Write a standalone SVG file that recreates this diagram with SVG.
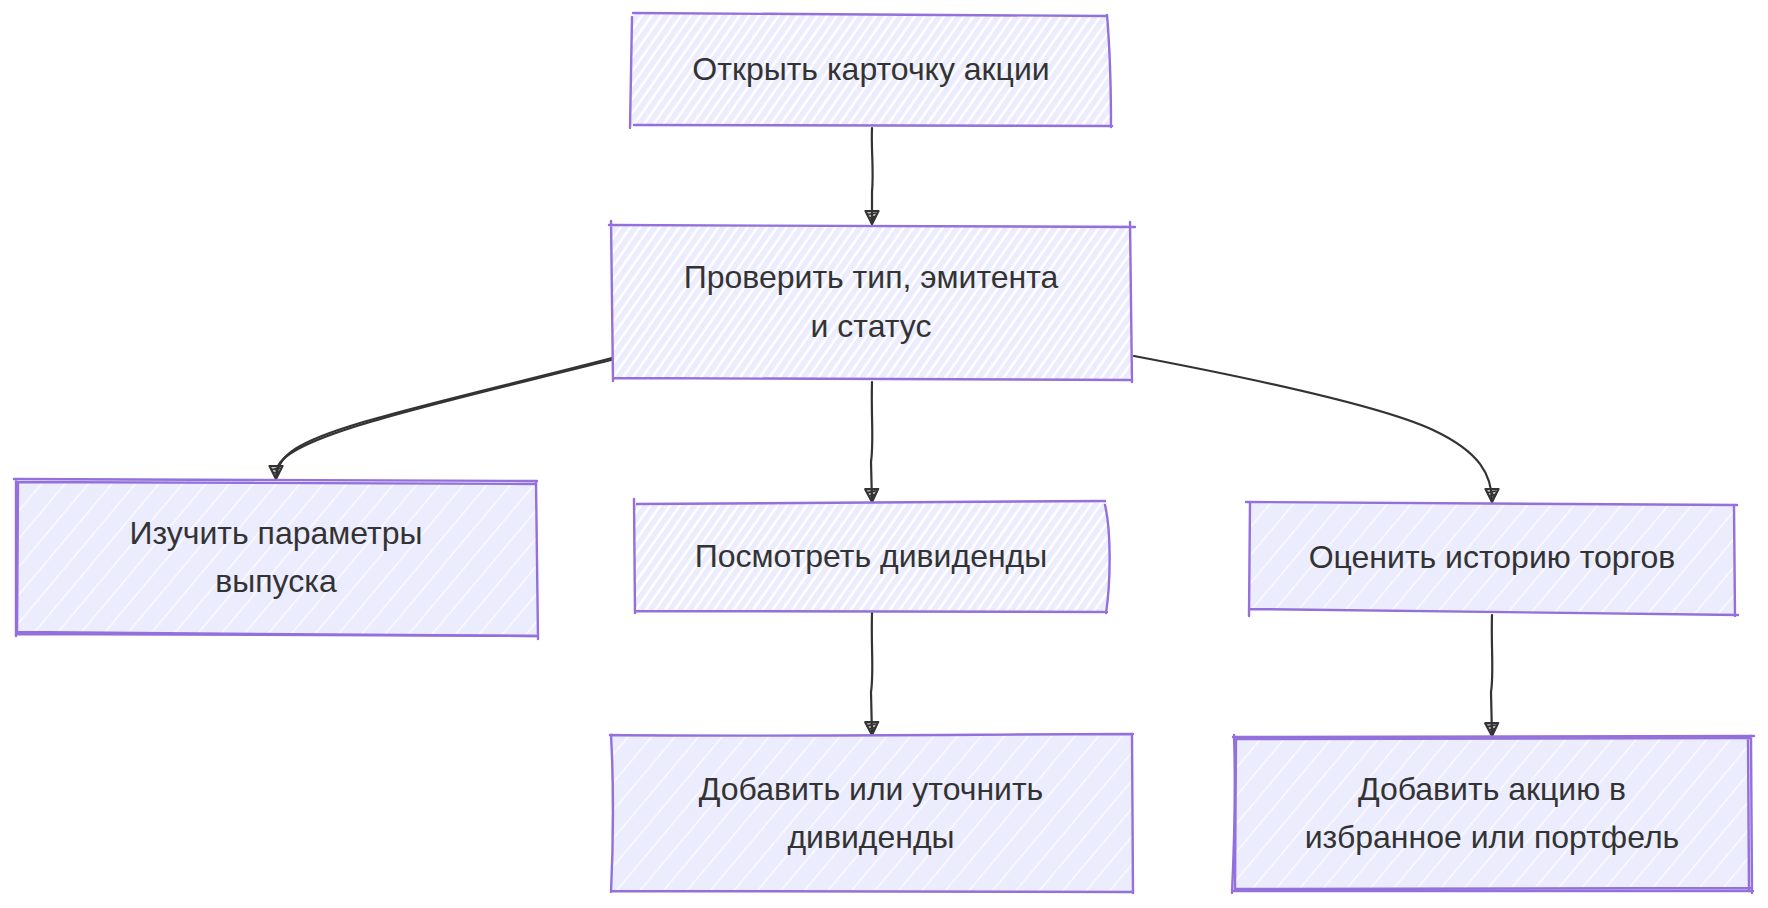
<svg xmlns="http://www.w3.org/2000/svg" width="1768" height="908" viewBox="0 0 1768 908">
<style>
.bd{fill:none;stroke:#9370DB;stroke-width:2.4;stroke-linecap:round;stroke-linejoin:round}
.lb{font-family:"Liberation Sans",Arial,sans-serif;font-size:32px;fill:#333333;text-anchor:middle}
.ed{fill:none;stroke:#333333;stroke-width:2.2;stroke-linecap:round}
</style>
<defs>
<pattern id="h1" width="8" height="8" patternUnits="userSpaceOnUse" patternTransform="rotate(35)">
<rect width="8" height="8" fill="#ffffff"/>
<rect width="5.5" height="8" fill="#ECECFF"/>
</pattern>
<pattern id="h2" width="18" height="18" patternUnits="userSpaceOnUse" patternTransform="rotate(40)">
<rect width="18" height="18" fill="#ECECFF"/>
<rect width="1.4" height="18" fill="#ffffff" opacity="0.85"/>
</pattern>
<marker id="ah" viewBox="0 0 16 16" refX="14" refY="8" markerWidth="16" markerHeight="16" markerUnits="userSpaceOnUse" orient="auto">
<path d="M1,1.5 L14,8 L1,14.5 Z" fill="#333333" fill-opacity="0.3" stroke="#333333" stroke-width="2.2" stroke-linejoin="round"/>
<path d="M3,4 L4.5,12 M6.5,5 L8,10.5 M3,9 L9,6" stroke="#333333" stroke-width="1.6" fill="none"/>
</marker>
</defs>

<g id="connectors">
<path id="e1" class="ed" marker-end="url(#ah)" d="M872,128 C871,150 874,170 872,192 L872,224"/>
<path id="e2" class="ed" marker-end="url(#ah)" d="M612,358 C520,382 420,405 360,423 C300,441 276,455 276,479"/>
<path class="ed" stroke-width="1.4" d="M611,360 C520,383 420,406 360,425 C302,443 278,457 277,470"/>
<path id="e3" class="ed" marker-end="url(#ah)" d="M872,382 C871,420 874,440 871,462 L872,502"/>
<path id="e4" class="ed" marker-end="url(#ah)" d="M1134,356 C1250,378 1380,405 1433,430 C1480,452 1492,475 1492,502"/>
<path id="e5" class="ed" marker-end="url(#ah)" d="M872,613 C871,650 874,672 871,692 L872,735"/>
<path id="e6" class="ed" marker-end="url(#ah)" d="M1492,615 C1491,650 1494,672 1491,692 L1492,736"/>
</g>

<g id="nodeA">
<path d="M632,14 L1107,15 L1112,126 L631,126 Z" fill="url(#h1)"/>
<path class="bd" d="M633,13 L1107,16 M1107,15 C1110,50 1111,90 1111,127 M1112,126 L634,125 M632,17 L630,128"/>
<text class="lb" x="871" y="80">Открыть карточку акции</text>
</g>

<g id="nodeB">
<path d="M611,225 L1131,225 L1132,380 L613,379 Z" fill="url(#h1)"/>
<path class="bd" d="M609,225 L1135,227 M1130,222 L1132,382 M1130,380 L614,378 M611,221 L613,381"/>
<text class="lb" x="871" y="288">Проверить тип, эмитента</text>
<text class="lb" x="871" y="337">и статус</text>
</g>

<g id="nodeC">
<path d="M16,480 L537,481 L537,636 L16,634 Z" fill="url(#h2)"/>
<path class="bd" d="M14,479 L537,481 M536,481 L538,639 M538,636 L16,634 M16,480 L16,636"/>
<path class="bd" d="M18,482 L536,484 M535,636 L17,632 M18,482 L17,634" stroke-width="1.2"/>
<text class="lb" x="276" y="544">Изучить параметры</text>
<text class="lb" x="276" y="592">выпуска</text>
</g>

<g id="nodeD">
<path d="M635,504 L1106,502 C1111,530 1110,580 1106,612 L635,612 Z" fill="url(#h1)"/>
<path class="bd" d="M637,504 L1105,501 M1105,505 C1111,530 1111,580 1106,613 M1107,612 L635,611 M634,499 L635,613"/>
<text class="lb" x="871" y="567">Посмотреть дивиденды</text>
</g>

<g id="nodeE">
<path d="M1250,503 L1734,505 L1735,614 L1250,609 Z" fill="url(#h2)"/>
<path class="bd" d="M1246,502 L1737,505 M1734,505 L1735,616 M1738,615 L1250,609 M1250,503 L1249,616"/>
<text class="lb" x="1492" y="568">Оценить историю торгов</text>
</g>

<g id="nodeF">
<path d="M611,736 L1132,735 L1132,892 L611,891 Z" fill="url(#h2)"/>
<path class="bd" d="M610,735 C800,737 1000,734 1133,734 M1132,735 L1133,893 M1132,892 L611,891 M611,735 C614,790 613,850 611,892"/>
<text class="lb" x="871" y="800">Добавить или уточнить</text>
<text class="lb" x="871" y="848">дивиденды</text>
</g>

<g id="nodeG">
<path d="M1234,737 L1752,736 L1752,891 L1233,890 Z" fill="url(#h2)"/>
<path class="bd" d="M1233,737 L1754,736 M1751,736 L1752,893 M1753,891 L1233,891 M1234,735 C1236,790 1234,850 1232,893"/>
<path class="bd" d="M1237,739 L1750,738 M1748,739 L1749,890 M1236,738 L1235,889 M1750,888 L1236,889" stroke-width="1.2"/>
<text class="lb" x="1492" y="800">Добавить акцию в</text>
<text class="lb" x="1492" y="848">избранное или портфель</text>
</g>
</svg>
